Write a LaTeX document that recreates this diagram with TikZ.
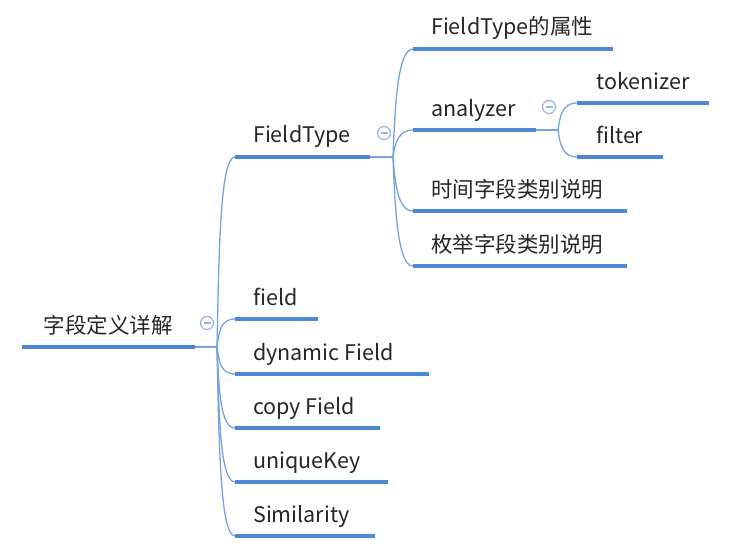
\documentclass[tikz,border=0pt]{standalone}
\usepackage{fontspec}
\usetikzlibrary{calc}
\setmainfont{Noto Sans CJK SC}
\definecolor{ublue}{RGB}{78,136,212}
\definecolor{lblue}{RGB}{118,163,224}
\definecolor{cblue}{RGB}{150,180,225}
\begin{document}
\begin{tikzpicture}[x=1pt,y=-1pt,
  uline/.style={ublue,line width=4pt},
  tline/.style={lblue,line width=1.3pt},
  conn/.style={lblue,line width=1.3pt},
  txt/.style={anchor=base west,inner sep=0pt,font=\fontsize{21.5}{25}\selectfont,text=black!85},
  collapse/.style={circle,draw=cblue,line width=1.2pt,fill=white,minimum size=13pt,inner sep=0pt,
    path picture={\draw[cblue,line width=1.2pt] ([xshift=-3.5pt]path picture bounding box.center) -- ([xshift=3.5pt]path picture bounding box.center);}}
]
\useasboundingbox (0,0) rectangle (733,551);
\fill[white] (0,0) rectangle (733,551);

% root
\coordinate (rootL) at (22,347);
\coordinate (rootR) at (195,347);
\coordinate (rootB) at (217,347);
\node[txt,anchor=base] (rootT) at (108,333) {字段定义详解};
\draw[tline] (rootR) -- (rootB);
\draw[uline] (rootL) -- (rootR);
\node[collapse] (rootC) at (207,323) {};

% level 1
\coordinate (ftL) at (235,157); \coordinate (ftR) at (370,157); \coordinate (ftB) at (393,157);
\coordinate (fdL) at (235,319); \coordinate (fdR) at (318,319);
\coordinate (dfL) at (235,374); \coordinate (dfR) at (429,374);
\coordinate (cfL) at (235,428); \coordinate (cfR) at (380,428);
\coordinate (ukL) at (235,482); \coordinate (ukR) at (388,482);
\coordinate (smL) at (235,536); \coordinate (smR) at (375,536);

\foreach \n in {ft,fd,df,cf,uk,sm}{
  \draw[conn] (rootB) .. controls ($(rootB)!0.5!(rootB |- \n L)+(2,0)$) and ($(\n L)+(-15,0)$) .. (\n L);
}
\foreach \n in {ft,fd,df,cf,uk,sm}{
  \draw[uline] (\n L) -- (\n R);
}
\node[txt] (ftT) at (253,142) {FieldType};
\node[txt] (fdT) at (253,305) {field};
\node[txt] (dfT) at (253,360) {dynamic Field};
\node[txt] (cfT) at (253,414) {copy Field};
\node[txt] (ukT) at (253,468) {uniqueKey};
\node[txt] (smT) at (253,522) {Similarity};
\draw[tline] (ftR) -- (ftB);
\node[collapse] (ftC) at (384,133) {};

% level 2
\coordinate (p1L) at (413,49);  \coordinate (p1R) at (613,49);
\coordinate (anL) at (413,130); \coordinate (anR) at (536,130); \coordinate (anB) at (558,130);
\coordinate (p3L) at (413,211); \coordinate (p3R) at (627,211);
\coordinate (p4L) at (413,266); \coordinate (p4R) at (627,266);
\foreach \n in {p1,an,p3,p4}{
  \draw[conn] (ftB) .. controls ($(ftB)!0.5!(ftB |- \n L)+(2,0)$) and ($(\n L)+(-15,0)$) .. (\n L);
}
\foreach \n in {p1,an,p3,p4}{
  \draw[uline] (\n L) -- (\n R);
}
\node[txt] (p1T) at (431,35) {FieldType的属性};
\node[txt] (anT) at (431,116) {analyzer};
\node[txt] (p3T) at (431,197) {时间字段类别说明};
\node[txt] (p4T) at (431,252) {枚举字段类别说明};
\draw[tline] (anR) -- (anB);
\node[collapse] (anC) at (549,107) {};

% level 3
\coordinate (tkL) at (577,103); \coordinate (tkR) at (709,103);
\coordinate (flL) at (577,157); \coordinate (flR) at (663,157);
\foreach \n in {tk,fl}{
  \draw[conn] (anB) .. controls ($(anB)!0.5!(anB |- \n L)+(2,0)$) and ($(\n L)+(-15,0)$) .. (\n L);
}
\foreach \n in {tk,fl}{
  \draw[uline] (\n L) -- (\n R);
}
\node[txt] (tkT) at (596,89) {tokenizer};
\node[txt] (flT) at (596,143) {filter};
\end{tikzpicture}
\end{document}
